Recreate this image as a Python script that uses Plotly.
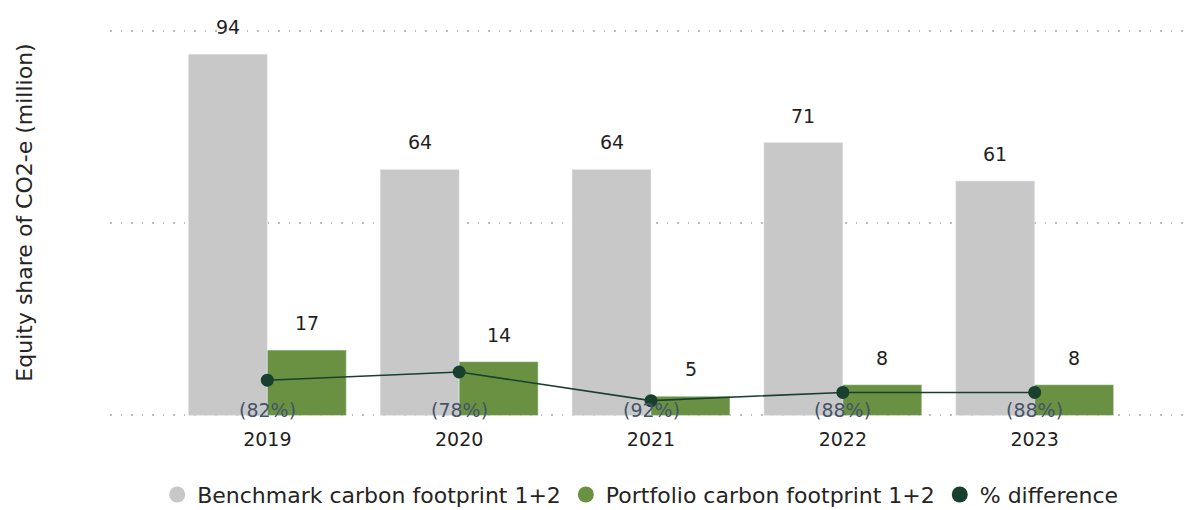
import plotly.graph_objects as go

years = ['2019', '2020', '2021', '2022', '2023']
benchmark = [94, 64, 64, 71, 61]
portfolio = [17, 14, 5, 8, 8]
pct_diff = [-82, -78, -92, -88, -88]
pct_labels = ['(82%)', '(78%)', '(92%)', '(88%)', '(88%)']

grey = '#c8c8c8'
green = '#6a9142'
dark = '#17402f'
font = 'DejaVu Sans'

fig = go.Figure()

fig.add_trace(go.Bar(x=years, y=benchmark, marker_color=grey, showlegend=False,
                     offsetgroup='b'))
fig.add_trace(go.Bar(x=years, y=portfolio, marker_color=green, showlegend=False,
                     offsetgroup='p'))
fig.add_trace(go.Scatter(x=years, y=pct_diff, yaxis='y2', mode='lines+markers',
                         line=dict(color=dark, width=1.6),
                         marker=dict(color=dark, size=13), showlegend=False))

# legend entries (circles)
for name, col in [('Benchmark carbon footprint 1+2', grey),
                  ('Portfolio carbon footprint 1+2', green),
                  ('% difference', dark)]:
    fig.add_trace(go.Scatter(x=[None], y=[None], mode='markers', name=name,
                             marker=dict(color=col, size=20)))

# value labels above the bars (category index for x, shifted onto each bar)
bar_px = 79
for i, (b, p) in enumerate(zip(benchmark, portfolio)):
    fig.add_annotation(x=i, y=b, text=str(b), showarrow=False, xshift=-bar_px / 2,
                       yshift=27, font=dict(size=19, color='#1f1f1f', family=font))
    fig.add_annotation(x=i, y=p, text=str(p), showarrow=False, xshift=bar_px / 2,
                       yshift=27, font=dict(size=19, color='#1f1f1f', family=font))

# percent labels sit along the bottom of the plot, under each marker
for i, lab in enumerate(pct_labels):
    fig.add_annotation(x=i, y=0, yref='paper', yanchor='bottom', text=lab,
                       showarrow=False, yshift=-6,
                       font=dict(size=19, color='#44546a', family=font))

fig.update_layout(
    width=1192, height=510,
    margin=dict(l=110, r=0, t=8, b=93),
    plot_bgcolor='white', paper_bgcolor='white',
    barmode='group', bargap=0.177, bargroupgap=0,
    font=dict(family=font, color='#252423'),
    xaxis=dict(type='category', range=[-0.82, 4.82], showgrid=False, ticks='',
               ticklabelstandoff=9, tickfont=dict(size=19, color='#1f1f1f')),
    yaxis=dict(range=[-0.4, 106], dtick=50, showticklabels=False, zeroline=False,
               showgrid=True, gridcolor='#bdbdbd', gridwidth=1.5, griddash='1.5px,9px',
               title=dict(text='Equity share of CO2-e (million)', standoff=70,
                          font=dict(size=22, color='#252423'))),
    yaxis2=dict(range=[-100, 100], overlaying='y', side='right', showgrid=False,
                showticklabels=False, zeroline=False),
    legend=dict(orientation='h', x=0.49, xanchor='center', yref='container',
                y=0.03, yanchor='middle',
                font=dict(size=22, color='#252423'), itemwidth=30,
                tracegroupgap=0),
)

fig.write_html('out.html', config={'displayModeBar': False},
               post_script="document.body.style.margin='0';")
